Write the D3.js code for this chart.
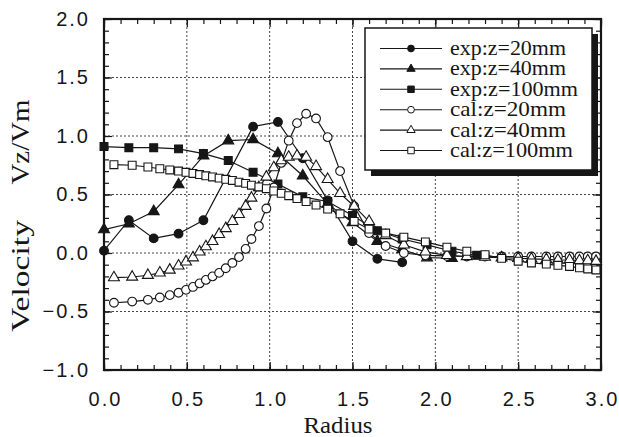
<!DOCTYPE html>
<html>
<head>
<meta charset="utf-8">
<script src="https://cdn.jsdelivr.net/npm/d3@7/dist/d3.min.js"></script>
<style>
  html, body { margin: 0; padding: 0; background: #fff; }
  svg { display: block; }
</style>
</head>
<body>
<div id="chart"></div>
<script>
// measured points, experiment (filled markers)
var exp20R = [0, 0.15, 0.30, 0.45, 0.60, 0.90, 1.05, 1.20, 1.35, 1.50, 1.65, 1.80];
var exp20V = [0.02, 0.28, 0.125, 0.165, 0.28, 1.08, 1.12, 0.81, 0.45, 0.10, -0.05, -0.08];

var exp40R = [0, 0.15, 0.30, 0.45, 0.60, 0.75, 0.90, 1.05, 1.20, 1.35, 1.50, 1.65, 1.80, 1.95, 2.10];
var exp40V = [0.20, 0.25, 0.355, 0.585, 0.83, 0.96, 0.97, 0.85, 0.66, 0.42, 0.26, 0.10, 0.03, -0.04, -0.045];

var exp100R = [0, 0.15, 0.30, 0.45, 0.60, 0.75, 0.90, 1.05, 1.20, 1.35, 1.50, 1.65, 1.80, 1.95, 2.10, 2.25];
var exp100V = [0.91, 0.90, 0.90, 0.89, 0.85, 0.79, 0.69, 0.59, 0.48, 0.44, 0.32, 0.19, 0.12, 0.07, 0.015, -0.02];

// calculation grid (open markers)
var calR = [0.06, 0.17, 0.265, 0.337, 0.397, 0.45, 0.495, 0.537, 0.577, 0.615,
            0.655, 0.695, 0.735, 0.775, 0.815, 0.855, 0.89, 0.935, 0.98, 1.025,
            1.07, 1.115, 1.165, 1.22, 1.28, 1.35, 1.425, 1.51, 1.60, 1.70,
            1.81, 1.94, 2.07, 2.19, 2.30, 2.40, 2.50, 2.58, 2.67, 2.74,
            2.81, 2.87, 2.92, 2.97];
var cal20V = [-0.425, -0.415, -0.40, -0.38, -0.36, -0.34, -0.315, -0.29, -0.26, -0.23,
              -0.20, -0.17, -0.13, -0.085, -0.035, 0.035, 0.12, 0.23, 0.38, 0.56,
              0.77, 0.96, 1.11, 1.19, 1.15, 0.99, 0.70, 0.40, 0.17, 0.06,
              0.0, -0.02, -0.025, -0.03, -0.03, -0.03, -0.03, -0.03, -0.03, -0.03,
              -0.03, -0.03, -0.03, -0.03];
var cal40V = [-0.21, -0.205, -0.19, -0.17, -0.145, -0.11, -0.075, -0.04, 0.01, 0.055,
              0.10, 0.16, 0.21, 0.27, 0.33, 0.40, 0.47, 0.56, 0.65, 0.73,
              0.79, 0.82, 0.83, 0.82, 0.74, 0.63, 0.51, 0.40, 0.27, 0.15,
              0.07, 0.01, -0.02, -0.03, -0.035, -0.04, -0.045, -0.05, -0.055, -0.06,
              -0.06, -0.065, -0.065, -0.07];
var cal100V = [0.755, 0.75, 0.735, 0.72, 0.71, 0.70, 0.69, 0.68, 0.67, 0.66,
               0.65, 0.64, 0.63, 0.62, 0.605, 0.595, 0.58, 0.565, 0.55, 0.53,
               0.51, 0.49, 0.465, 0.44, 0.41, 0.375, 0.335, 0.27, 0.205, 0.17,
               0.135, 0.095, 0.05, 0.015, -0.015, -0.045, -0.07, -0.085, -0.095, -0.105,
               -0.115, -0.127, -0.136, -0.145];

var seriesNames = ['exp:z=20mm', 'exp:z=40mm', 'exp:z=100mm', 'cal:z=20mm', 'cal:z=40mm', 'cal:z=100mm'];
var xTicks = [0, 0.5, 1.0, 1.5, 2.0, 2.5, 3.0];
var yTicks = [-1.0, -0.5, 0, 0.5, 1.0, 1.5, 2.0];
var xLabel = 'Radius';
var yLabel1 = 'Velocity';
var yLabel2 = 'Vz/Vm';

(function () {
  'use strict';

  var W = 619, H = 437;
  var m = { left: 104, top: 19, right: 18, bottom: 67 };
  var w = W - m.left - m.right, h = H - m.top - m.bottom;

  var svg = d3.select('#chart').append('svg').attr('width', W).attr('height', H);
  var g = svg.append('g').attr('transform', 'translate(' + m.left + ',' + m.top + ')');

  var x = d3.scaleLinear().domain([0, 3]).range([0, w]);
  var y = d3.scaleLinear().domain([-1, 2]).range([h, 0]);

  var sans = '"Liberation Sans", Arial, Helvetica, sans-serif';
  var serif = '"Liberation Serif", "Times New Roman", Times, serif';
  var ink = '#161616';

  // dotted grid at major ticks
  var grid = g.append('g');
  grid.selectAll('.gx').data(xTicks.slice(1, -1)).enter().append('line')
    .attr('x1', function (d) { return x(d); }).attr('x2', function (d) { return x(d); })
    .attr('y1', 0).attr('y2', h);
  grid.selectAll('.gy').data(yTicks.slice(1, -1)).enter().append('line')
    .attr('y1', function (d) { return y(d); }).attr('y2', function (d) { return y(d); })
    .attr('x1', 0).attr('x2', w);
  grid.selectAll('line').attr('stroke', '#444').attr('stroke-width', 1).attr('stroke-dasharray', '2,2');

  // ticks inward on all four sides
  var minorX = d3.range(0, 3.0001, 0.1), minorY = d3.range(-1, 2.0001, 0.1);
  function axisPair(axisFn, scale, ticks, minor, tx, ty, labels, pad) {
    var gm = g.append('g').attr('transform', 'translate(' + tx + ',' + ty + ')')
      .call(axisFn(scale).tickValues(minor).tickSize(-5).tickFormat(''));
    gm.select('.domain').remove();
    var ga = g.append('g').attr('transform', 'translate(' + tx + ',' + ty + ')')
      .call(axisFn(scale).tickValues(ticks).tickSize(-8).tickPadding(pad)
        .tickFormat(labels ? d3.format('.1f') : ''));
    ga.select('.domain').remove();
    ga.selectAll('line').attr('stroke', ink).attr('stroke-width', 1.2);
    gm.selectAll('line').attr('stroke', ink).attr('stroke-width', 1.2);
    return ga;
  }
  var bx = axisPair(d3.axisBottom, x, xTicks, minorX, 0, h, true, 22);
  axisPair(d3.axisTop, x, xTicks, minorX, 0, 0, false, 0);
  var ly = axisPair(d3.axisLeft, y, yTicks, minorY, 0, 0, true, 14);
  axisPair(d3.axisRight, y, yTicks, minorY, w, 0, false, 0);

  bx.selectAll('text').style('font-family', sans).style('font-size', '20px')
    .style('letter-spacing', '2px').attr('fill', ink).attr('dx', '1px');
  ly.selectAll('text').style('font-family', sans).style('font-size', '20px')
    .style('letter-spacing', '2px').attr('fill', ink);

  // frame
  g.append('rect').attr('width', w).attr('height', h)
    .attr('fill', 'none').attr('stroke', ink).attr('stroke-width', 2.2);

  // series
  var series = [
    { r: exp20R, v: exp20V, shape: 'circle', filled: true },
    { r: exp40R, v: exp40V, shape: 'triangle', filled: true },
    { r: exp100R, v: exp100V, shape: 'square', filled: true },
    { r: calR, v: cal20V, shape: 'circle', filled: false },
    { r: calR, v: cal40V, shape: 'triangle', filled: false },
    { r: calR, v: cal100V, shape: 'square', filled: false }
  ];
  var shapes = {
    circle: d3.symbol().type(d3.symbolCircle).size(60),
    triangle: d3.symbol().type(d3.symbolTriangle).size(52),
    square: d3.symbol().type(d3.symbolSquare).size(62)
  };

  var line = d3.line().x(function (d) { return x(d[0]); }).y(function (d) { return y(d[1]); });
  series.forEach(function (s) {
    s.pts = s.r.map(function (r, i) { return [r, s.v[i]]; });
    g.append('path').datum(s.pts).attr('d', line)
      .attr('fill', 'none').attr('stroke', ink).attr('stroke-width', 1.2);
  });
  series.forEach(function (s) {
    g.append('g').selectAll('path').data(s.pts).enter().append('path')
      .attr('transform', function (d) { return 'translate(' + x(d[0]) + ',' + y(d[1]) + ')'; })
      .attr('d', shapes[s.shape])
      .attr('fill', s.filled ? ink : '#fff')
      .attr('stroke', ink).attr('stroke-width', 1.1);
  });

  // legend with drop shadow
  var lg = svg.append('g').attr('transform', 'translate(365,28)');
  lg.append('rect').attr('x', 6).attr('y', 6).attr('width', 227).attr('height', 142).attr('fill', ink);
  lg.append('rect').attr('width', 227).attr('height', 142)
    .attr('fill', '#fff').attr('stroke', ink).attr('stroke-width', 1.5);
  var legendShapes = {
    circle: d3.symbol().type(d3.symbolCircle).size(36),
    triangle: d3.symbol().type(d3.symbolTriangle).size(30),
    square: d3.symbol().type(d3.symbolSquare).size(42)
  };
  var rows = lg.selectAll('.lrow').data(series).enter().append('g')
    .attr('class', 'lrow')
    .attr('transform', function (d, i) { return 'translate(0,' + (20.5 + i * 20.4) + ')'; });
  rows.append('line').attr('x1', 15).attr('x2', 77).attr('y1', 0).attr('y2', 0)
    .attr('stroke', ink).attr('stroke-width', 1.1);
  rows.append('path').attr('transform', 'translate(46,0)')
    .attr('d', function (d) { return legendShapes[d.shape](); })
    .attr('fill', function (d) { return d.filled ? ink : '#fff'; })
    .attr('stroke', ink).attr('stroke-width', 1);
  rows.append('text').attr('x', 85).attr('y', 6.5)
    .style('font-family', serif).style('font-size', '21px').attr('fill', ink)
    .attr('textLength', function (d, i) { return i === 2 ? 128 : (i === 5 ? 123 : 116); })
    .attr('lengthAdjust', 'spacingAndGlyphs')
    .text(function (d, i) { return seriesNames[i]; });

  // axis titles
  svg.append('text').attr('x', 338).attr('y', 433).attr('text-anchor', 'middle')
    .style('font-family', serif).style('font-size', '24px').attr('fill', ink)
    .attr('textLength', 69).attr('lengthAdjust', 'spacingAndGlyphs').text(xLabel);
  svg.append('text').attr('transform', 'translate(29,276) rotate(-90)').attr('text-anchor', 'middle')
    .style('font-family', serif).style('font-size', '26px').attr('fill', ink)
    .attr('textLength', 112).attr('lengthAdjust', 'spacingAndGlyphs').text(yLabel1);
  svg.append('text').attr('transform', 'translate(29,142) rotate(-90)').attr('text-anchor', 'middle')
    .style('font-family', serif).style('font-size', '26px').attr('fill', ink)
    .attr('textLength', 85).attr('lengthAdjust', 'spacingAndGlyphs').text(yLabel2);
})();
</script>
</body>
</html>
